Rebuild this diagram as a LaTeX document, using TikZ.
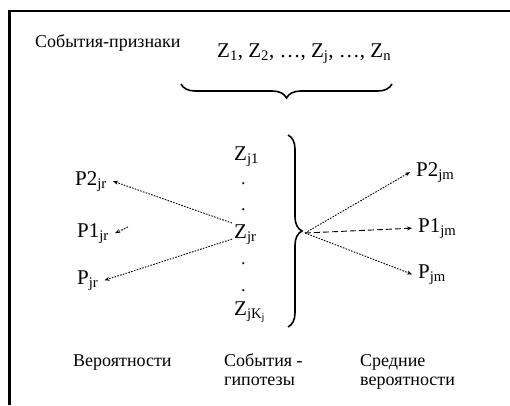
\documentclass[tikz,border=0pt]{standalone}
\usepackage{fontspec}
\setmainfont{Liberation Serif}
\newfontfamily\tms{Liberation Serif}
\usetikzlibrary{arrows.meta,decorations.pathreplacing}
\tikzset{lbl/.style={inner sep=2pt,anchor=base west,align=left,font=\tms\fontsize{18}{19}\selectfont},zlab/.style={inner sep=2pt,anchor=base west,font=\tms\fontsize{21}{23}\selectfont},plab/.style={inner xsep=6pt,inner ysep=2pt,anchor=base west,font=\tms\fontsize{21}{23}\selectfont},dotmark/.style={inner sep=0pt,anchor=base west,font=\tms\fontsize{18}{19}\selectfont},brc/.style={decorate,decoration={brace,amplitude=14pt},line width=1.6pt},dotarr/.style={-{Stealth[length=5pt,width=4pt]},dash pattern=on 1.6pt off 1.3pt,line width=.9pt},dasharr/.style={-{Stealth[length=5pt,width=4pt]},dash pattern=on 6pt off 3pt,line width=.9pt}}

\begin{document}
\begin{tikzpicture}[x=1pt,y=-1pt]
\useasboundingbox (0,0) rectangle (510,405);
\draw[line width=2.5pt] (510,11)--(9.5,11)--(9.5,405);
\node[lbl] (title) at (33,47) {События-признаки};
\node[zlab] (zrow) at (215,57) {Z\textsubscript{1}, Z\textsubscript{2}, \dots, Z\textsubscript{j}, \dots, Z\textsubscript{n}};
\draw[brc] (392,84)--(181,84);
% column of hypotheses
\node[zlab] (zj1) at (232,160) {Z\textsubscript{j1}};
\node[dotmark] (d1) at (241,184) {.};
\node[dotmark] (d2) at (241,210) {.};
\node[zlab] (zjr) at (232,238) {Z\textsubscript{jr}};
\node[dotmark] (d3) at (241,264) {.};
\node[dotmark] (d4) at (241,291) {.};
\node[zlab] (zjk) at (232,315) {Z\textsubscript{jK\textsubscript{j}}};
\draw[brc] (288,135)--(288,327);
\coordinate (vtip) at (305,233);
% probabilities
\node[plab] (p2jr) at (69,185) {P2\textsubscript{jr}};
\node[plab] (p1jr) at (71,237) {P1\textsubscript{jr}};
\node[plab] (pjr) at (71,284) {P\textsubscript{jr}};
\node[plab] (p2jm) at (410,176) {P2\textsubscript{jm}};
\node[plab] (p1jm) at (412,232) {P1\textsubscript{jm}};
\node[plab] (pjm) at (412,278) {P\textsubscript{jm}};
\coordinate (p1stub) at (128,227);
\draw[dotarr] (zjr.140)--(p2jr.east);
\draw[dotarr] (p1stub)--(p1jr.east);
\draw[dotarr] (zjr.200)--(pjr.east);
\draw[dotarr] (vtip)--(p2jm.west);
\draw[dasharr] (vtip)--(p1jm.west);
\draw[dotarr] (vtip)--(pjm.west);
% captions
\node[lbl] (cap1) at (71,366) {Вероятности};
\node[lbl] (cap2) at (222,385) {События -\\гипотезы};
\node[lbl] (cap3) at (358,385) {Средние\\вероятности};
\end{tikzpicture}
\end{document}
